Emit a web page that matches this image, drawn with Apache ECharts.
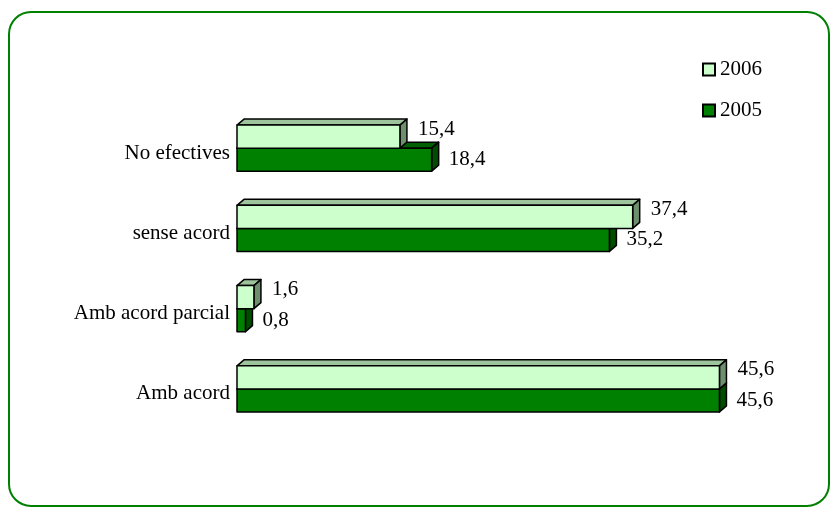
<!DOCTYPE html>
<html>
<head>
<meta charset="utf-8">
<script src="https://cdn.jsdelivr.net/npm/echarts@6/dist/echarts.min.js"></script>
<style>
  html, body { margin: 0; padding: 0; background: #fff; }
  #chart { width: 834px; height: 512px; }
</style>
</head>
<body>
<div id="chart"></div>
<script>
// categories, top to bottom
var categories = ["No efectives", "sense acord", "Amb acord parcial", "Amb acord"];
var values2006 = [15.4, 37.4, 1.6, 45.6];
var values2005 = [18.4, 35.2, 0.8, 45.6];
var seriesNames = ["2006", "2005"];

// face colours: front, top, side
var faces = {
  "2006": ["#CCFFCC", "#9DC49D", "#6E8F6E"],
  "2005": ["#008000", "#005F00", "#004D00"]
};

var serif = '"Liberation Serif", "Times New Roman", serif';

function fmt(v) {
  return String(v).replace(".", ",");
}

function bar3d(upper) {
  return function (params, api) {
    var val = api.value(0);
    var idx = api.value(1);
    var start = api.coord([0, idx]);
    var end = api.coord([val, idx]);
    var band = api.size([0, 1])[1];
    var h = band * 0.287;
    var dx = 7, dy = 6;
    var x0 = start[0], x1 = end[0];
    var y0 = upper ? start[1] - h : start[1];
    var y1 = y0 + h;
    var c = faces[upper ? "2006" : "2005"];
    var line = { stroke: "#000", lineWidth: 1.5, lineJoin: "round" };
    return {
      type: "group",
      children: [
        {
          type: "polygon",
          shape: { points: [[x0, y0], [x0 + dx, y0 - dy], [x1 + dx, y0 - dy], [x1, y0]] },
          style: Object.assign({ fill: c[1] }, line)
        },
        {
          type: "polygon",
          shape: { points: [[x1, y0], [x1 + dx, y0 - dy], [x1 + dx, y1 - dy], [x1, y1]] },
          style: Object.assign({ fill: c[2] }, line)
        },
        {
          type: "rect",
          shape: { x: x0, y: y0, width: x1 - x0, height: h },
          style: Object.assign({ fill: c[0] }, line)
        },
        {
          type: "text",
          style: {
            text: fmt(val),
            x: x1 + dx + (upper ? 11 : 10),
            y: upper ? y0 + 4 : (y0 + y1) / 2,
            fill: "#000",
            font: "21px " + serif,
            verticalAlign: "middle",
            align: "left"
          }
        }
      ]
    };
  };
}

function toData(arr) {
  return arr.map(function (v, i) { return [v, i]; });
}

var chart = echarts.init(document.getElementById("chart"));
chart.setOption({
  animation: false,
  graphic: [{
    type: "rect",
    shape: { x: 9, y: 12, width: 820, height: 494, r: 22 },
    style: { fill: "none", stroke: "#008000", lineWidth: 2 },
    z: 10
  }],
  legend: {
    orient: "vertical",
    left: 697,
    top: 54,
    itemWidth: 12,
    itemHeight: 12,
    itemGap: 20,
    icon: "rect",
    data: seriesNames,
    textStyle: { fontFamily: serif, fontSize: 21, color: "#000" }
  },
  grid: { left: 237, top: 108, width: 529, height: 321 },
  xAxis: { type: "value", min: 0, max: 50, show: false },
  yAxis: {
    type: "category",
    data: categories,
    inverse: true,
    axisLine: { show: false },
    axisTick: { show: false },
    axisLabel: {
      margin: 7,
      verticalAlign: "top",
      lineHeight: 10,
      fontFamily: serif,
      fontSize: 21,
      color: "#000"
    }
  },
  series: [
    {
      name: "2005",
      type: "custom",
      renderItem: bar3d(false),
      encode: { x: 0, y: 1 },
      itemStyle: { color: "#008000", borderColor: "#000", borderWidth: 1 },
      data: toData(values2005),
      z: 2
    },
    {
      name: "2006",
      type: "custom",
      renderItem: bar3d(true),
      encode: { x: 0, y: 1 },
      itemStyle: { color: "#CCFFCC", borderColor: "#000", borderWidth: 1 },
      data: toData(values2006),
      z: 3
    }
  ]
});
</script>
</body>
</html>
